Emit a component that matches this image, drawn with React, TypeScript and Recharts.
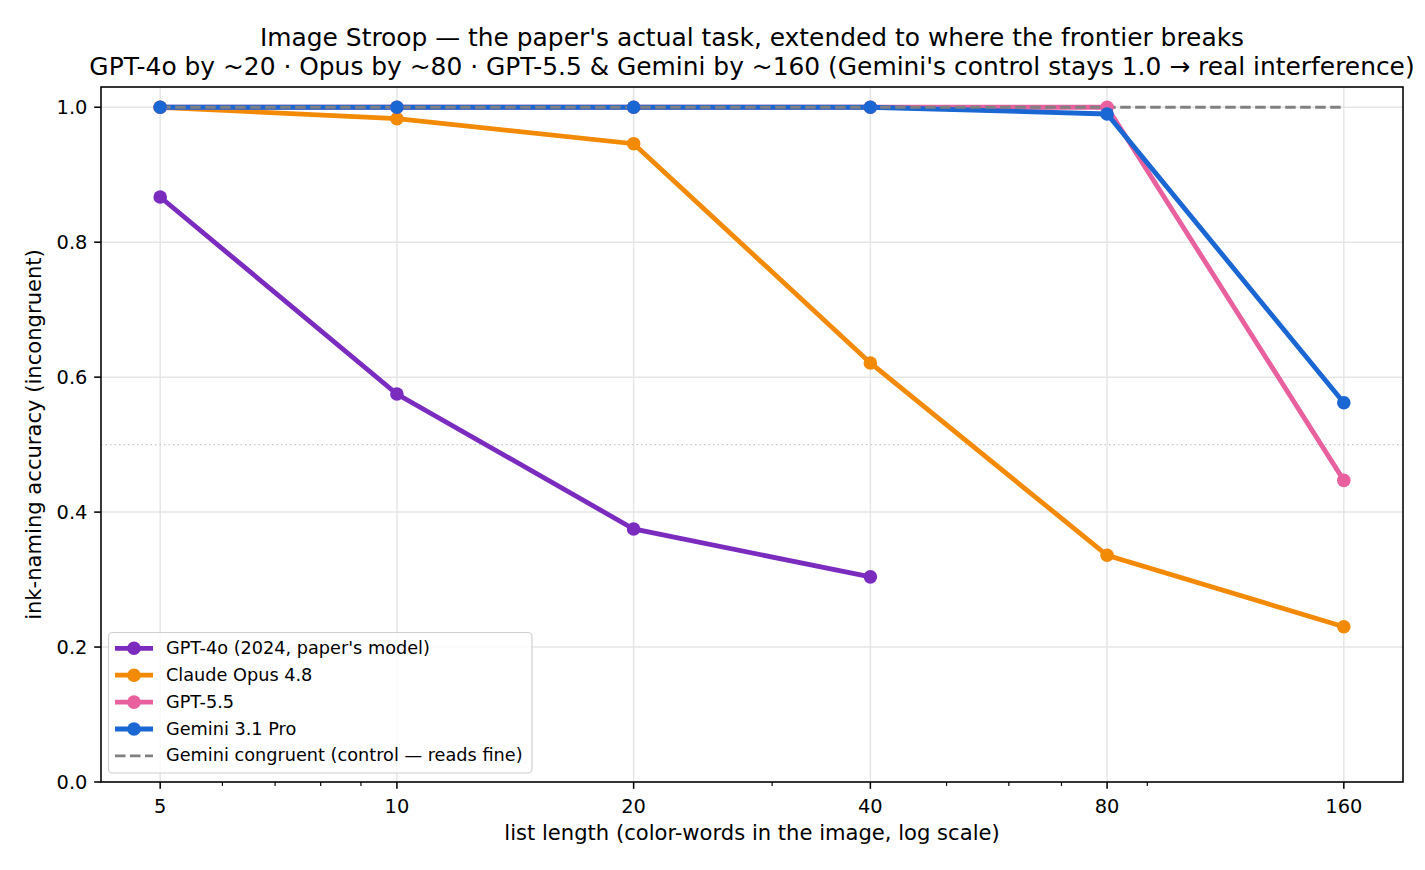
import React from 'react'
import { LineChart, Line, XAxis, YAxis, CartesianGrid, ReferenceLine } from 'recharts'

// values (ink-naming accuracy on incongruent trials)
const LIST_LENGTHS = [5, 10, 20, 40, 80, 160]
const GPT4O = [0.867, 0.575, 0.375, 0.304, null, null]
const OPUS = [1.0, 0.983, 0.946, 0.621, 0.336, 0.23]
const GPT55 = [1.0, 1.0, 1.0, 1.0, 1.0, 0.447]
const GEMINI = [1.0, 1.0, 1.0, 1.0, 0.99, 0.562]
const GEMINI_CONGRUENT = [1.0, 1.0, 1.0, 1.0, 1.0, 1.0]

const X_MAJOR = [5, 10, 20, 40, 80, 160]
const X_MINOR = [6, 7, 8, 9, 30, 50, 60, 70, 90]
const Y_TICKS = [0, 0.2, 0.4, 0.6, 0.8, 1.0]

const FONT = '"DejaVu Sans", sans-serif'

const SERIES = [
  { key: 'gpt4o', label: "GPT-4o (2024, paper's model)", color: '#7b2cbf', values: GPT4O, dashed: false },
  { key: 'opus', label: 'Claude Opus 4.8', color: '#f28a05', values: OPUS, dashed: false },
  { key: 'gpt55', label: 'GPT-5.5', color: '#e8609e', values: GPT55, dashed: false },
  { key: 'gemini', label: 'Gemini 3.1 Pro', color: '#1a66d2', values: GEMINI, dashed: false },
  { key: 'geminiCong', label: 'Gemini congruent (control — reads fine)', color: '#808080', values: GEMINI_CONGRUENT, dashed: true },
]

const data = LIST_LENGTHS.map((n, i) => {
  const row: Record<string, number | null> = { n }
  SERIES.forEach(s => { row[s.key] = s.values[i] })
  return row
})

const PLOT = { left: 101, top: 87, right: 1403, bottom: 782 }

function XTick(props: any) {
  const { x, y, payload } = props
  const major = X_MAJOR.includes(payload.value)
  return (
    <g>
      <line
        x1={x} x2={x} y1={y} y2={y + (major ? 6.8 : 3.9)}
        stroke="#000" strokeWidth={major ? 1.55 : 1.15}
      />
      {major && (
        <text x={x} y={y + 31} textAnchor="middle" fontSize={19.4} fontFamily={FONT} fill="#000">
          {payload.value}
        </text>
      )}
    </g>
  )
}

function LegendBox() {
  const x0 = 108.5
  const y0 = 632.5
  return (
    <g>
      <rect x={x0} y={y0} width={423.5} height={140.5} rx={4} fill="rgba(255,255,255,0.8)" stroke="#d0d0d0" strokeWidth={1.2} />
      {SERIES.map((s, i) => {
        const cy = 648.3 + i * 26.9
        return (
          <g key={s.key}>
            {s.dashed ? (
              <line x1={115} x2={153} y1={cy} y2={cy} stroke={s.color} strokeWidth={2.8} strokeDasharray="10.5 4.5" />
            ) : (
              <>
                <line x1={115} x2={153} y1={cy} y2={cy} stroke={s.color} strokeWidth={4.8} />
                <circle cx={134} cy={cy} r={6.8} fill={s.color} />
              </>
            )}
            <text x={166} y={cy + 5.5} fontSize={17.7} fontFamily={FONT} fill="#000">{s.label}</text>
          </g>
        )
      })}
    </g>
  )
}

export default function App() {
  return (
    <div style={{ position: 'absolute', left: 0, top: 0, width: 1425, height: 870, background: '#fff' }}>
      <LineChart
        width={1425}
        height={870}
        data={data}
        margin={{ top: PLOT.top, right: 1425 - PLOT.right, bottom: 870 - PLOT.bottom - 40, left: PLOT.left - 60 }}
      >
        <CartesianGrid
          stroke="#e6e6e6"
          strokeWidth={1.5}
          verticalCoordinatesGenerator={({ xAxis }: any) =>
            X_MAJOR.map(v => (typeof xAxis.scale === 'function' ? xAxis.scale(v) : xAxis.scale.map(v)))
          }
        />
        <ReferenceLine y={0.5} stroke="#c8c8c8" strokeWidth={1.2} strokeDasharray="1.5 3" />
        <XAxis
          dataKey="n"
          type="number"
          scale="log"
          domain={[5 * 2 ** -0.25, 160 * 2 ** 0.25]}
          allowDataOverflow
          ticks={[...X_MAJOR, ...X_MINOR].sort((a, b) => a - b)}
          interval={0}
          tickSize={0}
          tickMargin={0}
          axisLine={false}
          tickLine={false}
          height={40}
          tick={(p: any) => <XTick {...p} />}
        />
        <YAxis
          type="number"
          domain={[0, 1.03]}
          allowDataOverflow
          ticks={Y_TICKS}
          interval={0}
          tickFormatter={(v: number) => v.toFixed(1)}
          tick={{ fill: '#000', fontSize: 19.4, fontFamily: FONT }}
          tickSize={6.8}
          tickMargin={6.8}
          tickLine={{ stroke: '#000', strokeWidth: 1.55 }}
          axisLine={false}
          width={60}
        />
        {SERIES.map(s => (
          <Line
            key={s.key}
            dataKey={s.key}
            type="linear"
            stroke={s.color}
            strokeWidth={s.dashed ? 2.8 : 4.8}
            strokeDasharray={s.dashed ? '10.5 4.5' : undefined}
            dot={s.dashed ? false : { r: 6.8, fill: s.color, stroke: s.color, strokeWidth: 0 }}
            activeDot={false}
            connectNulls={false}
            isAnimationActive={false}
          />
        ))}
      </LineChart>
      <svg width={1425} height={870} style={{ position: 'absolute', left: 0, top: 0, pointerEvents: 'none' }}>
        <rect
          x={PLOT.left} y={PLOT.top}
          width={PLOT.right - PLOT.left} height={PLOT.bottom - PLOT.top}
          fill="none" stroke="#000" strokeWidth={1.55}
        />
        <text x={752} y={46} textAnchor="middle" fontSize={24.9} fontFamily={FONT} fill="#000">
          Image Stroop — the paper's actual task, extended to where the frontier breaks
        </text>
        <text x={752} y={75} textAnchor="middle" fontSize={24.9} fontFamily={FONT} fill="#000">
          GPT-4o by ~20 · Opus by ~80 · GPT-5.5 &amp; Gemini by ~160 (Gemini's control stays 1.0 → real interference)
        </text>
        <text x={752} y={840} textAnchor="middle" fontSize={21.1} fontFamily={FONT} fill="#000">
          list length (color-words in the image, log scale)
        </text>
        <text transform="translate(41, 434.5) rotate(-90)" textAnchor="middle" fontSize={21.1} fontFamily={FONT} fill="#000">
          ink-naming accuracy (incongruent)
        </text>
        <LegendBox />
      </svg>
    </div>
  )
}
